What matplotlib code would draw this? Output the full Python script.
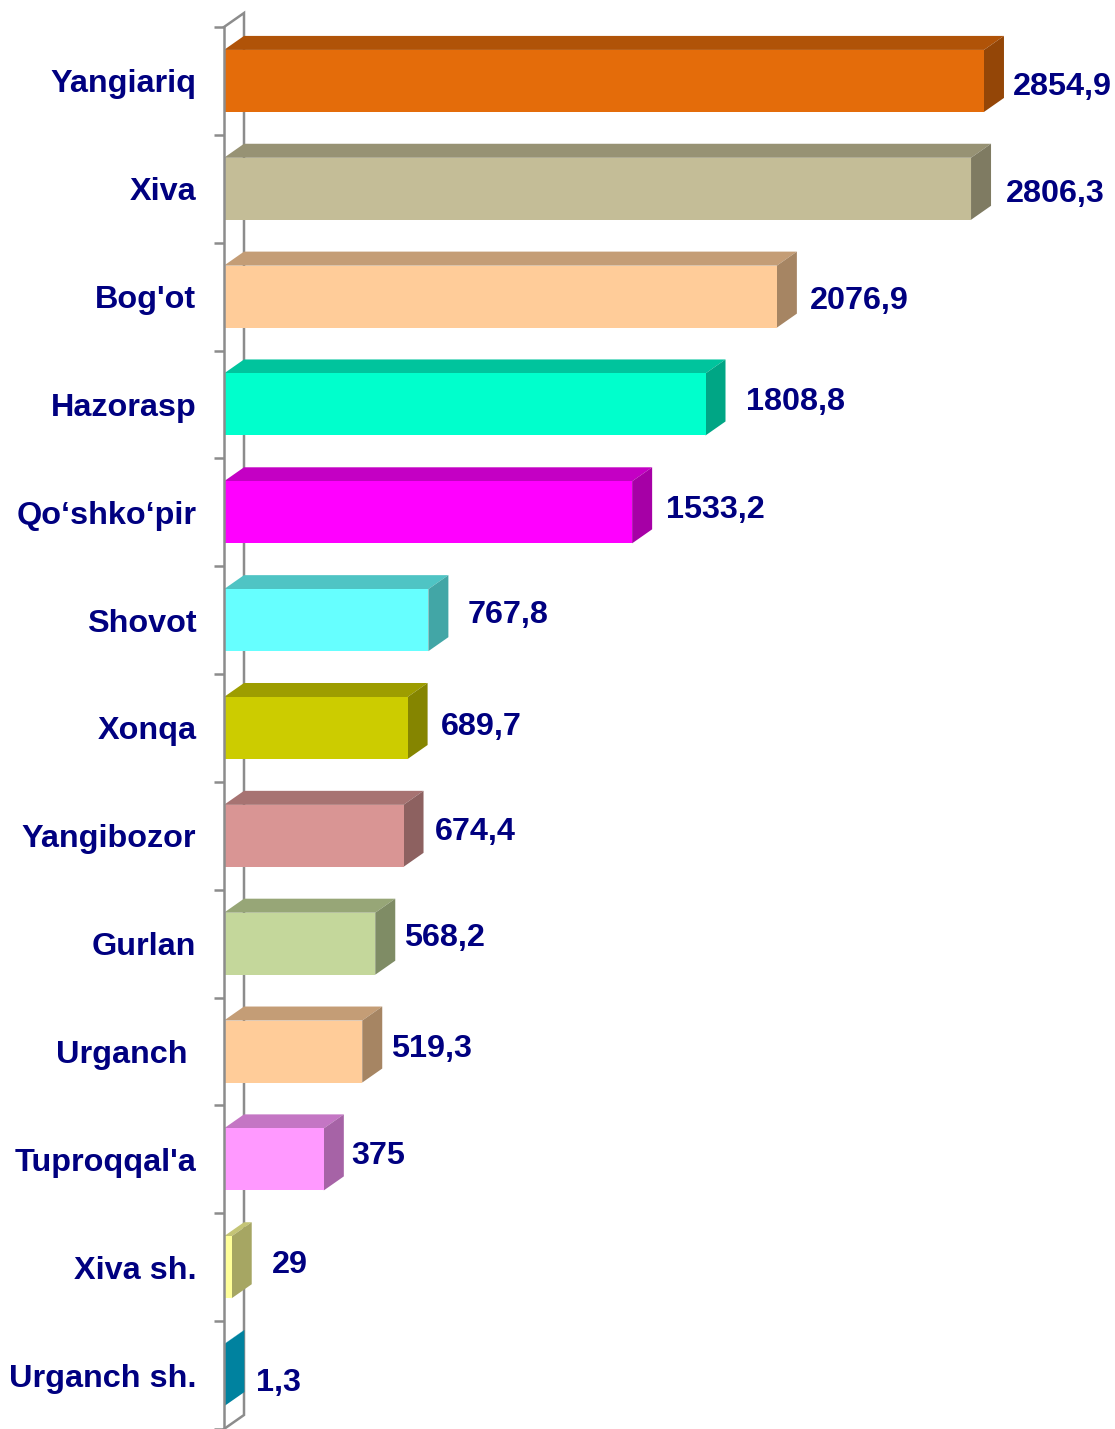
import matplotlib
matplotlib.use("Agg")
import matplotlib.pyplot as plt
from matplotlib.colors import to_rgb
from matplotlib.patches import Polygon

plt.rcParams["font.family"] = ["Liberation Sans", "DejaVu Sans"]

districts = [
    "Yangiariq", "Xiva", "Bog'ot", "Hazorasp", "Qo\u2018shko\u2018pir", "Shovot",
    "Xonqa", "Yangibozor", "Gurlan", "Urganch ", "Tuproqqal'a", "Xiva sh.",
    "Urganch sh.",
]
values = [2854.9, 2806.3, 2076.9, 1808.8, 1533.2, 767.8, 689.7, 674.4,
          568.2, 519.3, 375, 29, 1.3]
value_labels = ["2854,9", "2806,3", "2076,9", "1808,8", "1533,2", "767,8",
                "689,7", "674,4", "568,2", "519,3", "375", "29", "1,3"]

front_colors = ["#E46C0A", "#C4BD97", "#FFCC99", "#00FFCC", "#FF00FF",
                "#66FFFF", "#CCCC00", "#D99594", "#C4D79B", "#FFCC99",
                "#FF99FF", "#FFFF99", "#00C8F4"]

# hand nudges for the value labels (pixels right / up from the bar end)
label_dx = [29, 35, 33, 40, 34, 39, 33, 31, 29, 29, 27, 40, 32]
label_dy = [-6, -5, -4, 2, 2, 5, 1, 4, 6, 3, 3, 2, -8]

NAVY = "#000080"
GRAY = "#8C8C8C"
FS = 23.3

W, H, DPI = 1115, 1429, 100
PX_PER_UNIT = 0.2662          # horizontal scale, pixels per value unit
LEFT_PX, TOP_PX = 224, 27
DEPTH_X_PX, DEPTH_Y_PX = 20, 14
BAR_H = 0.575


def shade(color, k):
    r, g, b = to_rgb(color)
    return (r * k, g * k, b * k)


fig = plt.figure(figsize=(W / DPI, H / DPI), dpi=DPI)
ax = fig.add_axes([LEFT_PX / W, 0, (W - LEFT_PX) / W, (H - TOP_PX) / H])

n = len(districts)
ax.set_xlim(0, (W - LEFT_PX) / PX_PER_UNIT)
ax.set_ylim(n - 0.5, -0.5)
row_px = (H - TOP_PX) / n
dx = DEPTH_X_PX / PX_PER_UNIT
dy = DEPTH_Y_PX / row_px

for s in ["top", "right", "bottom"]:
    ax.spines[s].set_visible(False)
ax.spines["left"].set_color(GRAY)
ax.spines["left"].set_linewidth(1.8)
ax.spines["left"].set_zorder(5)
ax.set_xticks([])

# tick marks between categories, labels at the category centres
ax.set_yticks([i - 0.5 for i in range(n + 1)])
ax.set_yticklabels([])
ax.tick_params(axis="y", which="major", length=7.2, width=1.8, color=GRAY,
               direction="out")
ax.set_yticks(range(n), minor=True)
ax.set_yticklabels(districts, minor=True, color=NAVY, fontsize=FS,
                   fontweight="bold")
ax.tick_params(axis="y", which="minor", length=0, pad=20)

# back wall of the 3D frame
top, bottom = -0.5, n - 0.5
ax.plot([0, dx, dx, 0], [top, top - dy, bottom - dy, bottom], color=GRAY,
        lw=1.8, clip_on=False, zorder=1, solid_joinstyle="miter")

h = BAR_H / 2
for i, (v, c) in enumerate(zip(values, front_colors)):
    y0, y1 = i - h, i + h
    top_face = [(0, y0), (v, y0), (v + dx, y0 - dy), (dx, y0 - dy)]
    side_face = [(v, y0), (v + dx, y0 - dy), (v + dx, y1 - dy), (v, y1)]
    ax.add_patch(Polygon(top_face, closed=True, facecolor=shade(c, 0.77),
                         edgecolor="none", zorder=2, clip_on=False))
    ax.add_patch(Polygon(side_face, closed=True, facecolor=shade(c, 0.65),
                         edgecolor="none", zorder=2, clip_on=False))

bars = ax.barh(range(n), values, height=BAR_H, color=front_colors,
               edgecolor="none", zorder=3)

for bar, v, lab, ox, oy in zip(bars, values, value_labels, label_dx, label_dy):
    yc = bar.get_y() + bar.get_height() / 2
    ax.annotate(lab, xy=(v, yc), xytext=(ox, oy), textcoords="offset pixels",
                ha="left", va="center", color=NAVY, fontsize=FS,
                fontweight="bold", annotation_clip=False)

fig.savefig("out.png", dpi=DPI)
